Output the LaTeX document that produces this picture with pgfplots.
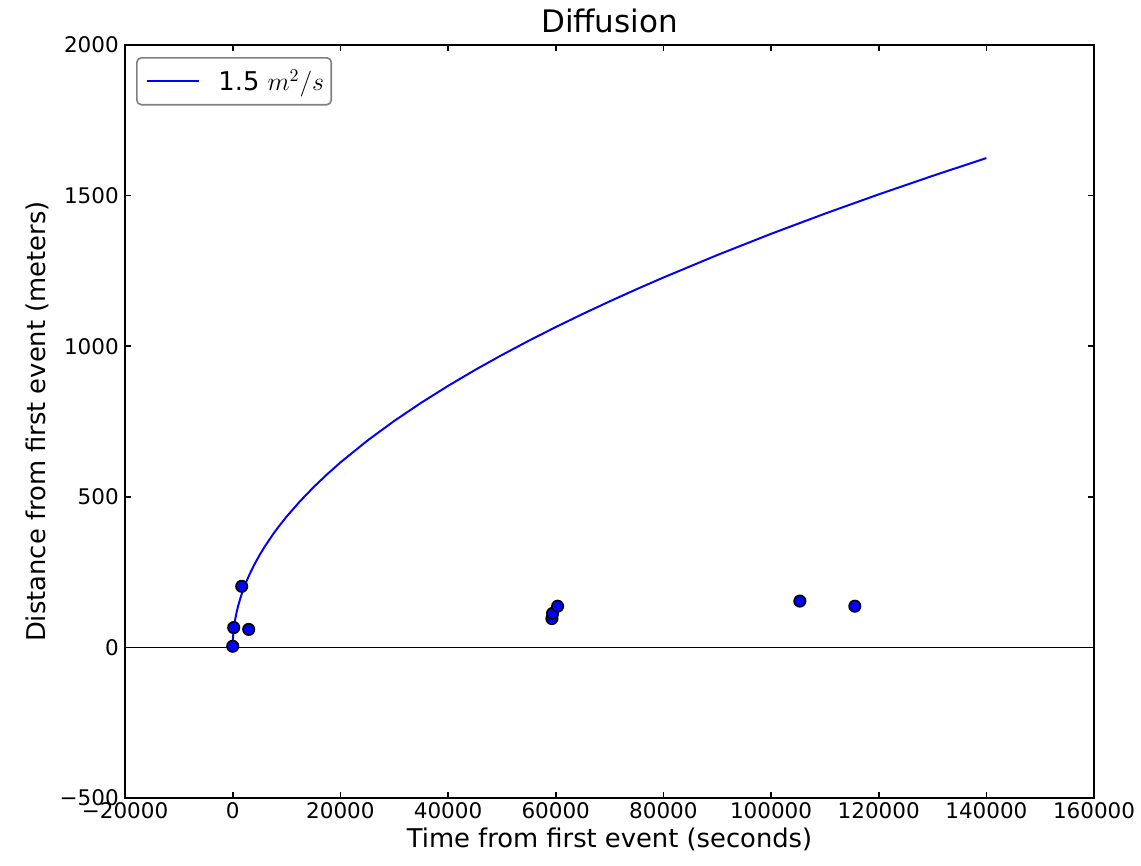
\documentclass[border=0pt]{standalone}
\usepackage{fontspec}
\setmainfont{DejaVu Sans}
\usepackage{pgfplots}
\pgfplotsset{compat=1.18}
\begin{document}
\begin{tikzpicture}
\begin{axis}[
  scale only axis,
  width=540.9pt, height=420.4pt,
  xmin=-20000, xmax=160000, ymin=-500, ymax=2000,
  xtick={-20000,0,20000,40000,60000,80000,100000,120000,140000,160000},
  xticklabels={−20000,0,20000,40000,60000,80000,100000,120000,140000,160000},
  ytick={-500,0,500,1000,1500,2000},
  yticklabels={−500,0,500,1000,1500,2000},
  scaled ticks=false,
  tick align=inside,
  major tick length=3.5pt,
  tick style={black, line width=0.9pt},
  axis line style={line width=0.9pt},
  ticklabel style={font=\fontsize{12}{14}\selectfont},
  xticklabel style={yshift=1pt},
  label style={font=\fontsize{14.4}{17}\selectfont},
  title style={font=\fontsize{17.3}{20}\selectfont, yshift=-3pt},
  title={Diffusion},
  xlabel={Time from first event (seconds)},
  ylabel={Distance from first event (meters)},
  xlabel style={yshift=2pt},
  ylabel style={yshift=-1pt},
  legend style={at={(0.0114,0.984)}, anchor=north west, draw=gray, rounded corners=2.5pt, line width=0.9pt,
    font=\fontsize{14.4}{17}\selectfont, inner xsep=1pt, inner ysep=4.5pt, nodes={inner xsep=3pt}},
  legend cell align=left,
  /pgfplots/legend image code/.code={\path[draw=none,fill=none] (0pt,0pt) (41.5pt,0pt); \draw[#1] (4.5pt,0pt) -- (33.5pt,0pt);},
]
\addplot[blue, line width=1.1pt, no marks] coordinates {
(0,0) (10,13.7) (50,30.7) (100,43.4) (200,61.4) (300,75.2) (500,97.1) (750,118.9)
(1000,137.3) (1500,168.2) (2000,194.2) (2500,217.1) (3000,237.8) (4000,274.6) (5000,307.0)
(6000,336.3) (7500,376.0) (8500,400.3) (10000,434.2) (12500,485.4) (15000,531.7) (17500,574.3)
(20000,614.0) (25000,686.5) (30000,752.0)
(35000,812.2) (40000,868.3) (45000,921.0) (50000,970.8) (55000,1018.2) (60000,1063.5)
(65000,1106.9) (70000,1148.7) (75000,1189.0) (80000,1228.0) (90000,1302.5) (100000,1373.0) (110000,1440.0)
(120000,1504.0) (130000,1565.4) (140000,1624.5)
};
\addlegendentry{1.5 $m^2/s$}
\addplot[black, line width=1.0pt, no marks, forget plot] coordinates {(-20000,0) (160000,0)};
\addplot[only marks, mark=*, mark size=3.2pt, mark options={fill=blue, draw=black, line width=0.9pt}, forget plot] coordinates {
(0,4) (186,66) (1671,203) (2971,60) (59290,96) (59420,113) (60350,137) (105350,154) (115560,137)
};
\end{axis}
\pgfresetboundingbox
\path[use as bounding box] ([shift={(-69.8pt,-37.4pt)}]current axis.south west) rectangle ([shift={(26.2pt,25.1pt)}]current axis.north east);
\end{tikzpicture}
\end{document}
